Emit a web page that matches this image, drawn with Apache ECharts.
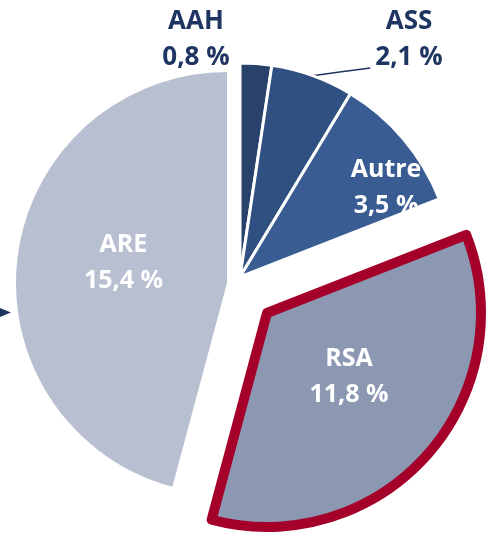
<!DOCTYPE html>
<html>
<head>
<meta charset="utf-8">
<script src="https://cdn.jsdelivr.net/npm/echarts@6/dist/echarts.min.js"></script>
<style>
html,body{margin:0;padding:0;background:#fff;}
#chart{width:490px;height:535px;}
</style>
</head>
<body>
<div id="chart"></div>
<script>
var names = ['AAH', 'ASS', 'Autre', 'RSA', 'ARE'];
var values = [0.8, 2.1, 3.5, 11.8, 15.4];
var colors = ['#28426c', '#2f5081', '#395c92', '#8c97b2', '#b8bfd1'];

var navy = '#1f3561';
var red = '#a5002a';
var font = 'Open Sans';

// 0.8 -> "0,8"
function fmt(v){
    return String(v).replace('.', ',');
}

// label / style per slice
var sliceOpts = {
    'AAH': {
        itemStyle: {borderColor: '#fff', borderWidth: 3},
        label: {position: 'outside', color: navy, fontSize: 26},
        labelLine: {show: false}
    },
    'ASS': {
        itemStyle: {borderColor: '#fff', borderWidth: 3},
        label: {position: 'outside', color: navy, fontSize: 26},
        labelLine: {show: true, length: 10, length2: 20, lineStyle: {color: navy, width: 1.5}}
    },
    'Autre': {
        itemStyle: {borderColor: '#fff', borderWidth: 3},
        label: {position: 'inside', color: '#fff', fontSize: 25}
    },
    'RSA': {
        itemStyle: {borderColor: red, borderWidth: 10, borderJoin: 'round'},
        label: {position: 'inside', color: '#fff', fontSize: 25}
    },
    'ARE': {
        itemStyle: {borderWidth: 0},
        label: {position: 'inside', color: '#fff', fontSize: 25}
    }
};

// every pie keeps all slices so the angles stay the same, only some are drawn
function buildData(shown){
    return names.map(function(n, i){
        var item = {name: n, value: values[i]};
        if (shown.indexOf(n) < 0) {
            item.itemStyle = {color: 'transparent', borderWidth: 0};
            item.label = {show: false};
            item.labelLine = {show: false};
            item.emphasis = {disabled: true};
        } else {
            var o = sliceOpts[n];
            item.itemStyle = Object.assign({color: colors[i]}, o.itemStyle);
            item.label = Object.assign({show: true}, o.label);
            item.labelLine = o.labelLine || {show: false};
        }
        return item;
    });
}

// where the labels sit
var labelPos = {
    'AAH': {x: 196, y: 40, align: 'center', verticalAlign: 'middle'},
    'ASS': {x: 409, y: 40, align: 'center', verticalAlign: 'middle'},
    'Autre': {dx: 62, dy: -18},
    'RSA': {dx: 0, dy: -9},
    'ARE': {dx: 4, dy: -6}
};

function placeLabel(p){
    var pos = labelPos[names[p.dataIndex]];
    if (!pos) return {};
    var res = Object.assign({}, pos);
    // ASS: line runs to the foot of the value line
    if (names[p.dataIndex] === 'ASS' && p.labelLinePoints) {
        var a = p.labelLinePoints[0];
        var end = [pos.x - p.labelRect.width / 2 - 5, pos.y + p.labelRect.height / 2 - 8];
        res.labelLinePoints = [a, [(a[0] + end[0]) / 2, (a[1] + end[1]) / 2], end];
    }
    return res;
}

var baseSeries = {
    type: 'pie',
    radius: 214,
    startAngle: 90,
    clockwise: true,
    avoidLabelOverlap: false,
    animation: false,
    label: {
        fontFamily: font,
        fontWeight: 'bold',
        lineHeight: 36,
        formatter: function(p){ return p.name + '\n' + fmt(p.value) + ' %'; }
    },
    labelLayout: placeLabel,
    emphasis: {scale: false}
};

var chart = echarts.init(document.getElementById('chart'));

var option = {
    backgroundColor: '#fff',
    graphic: [
        {
            type: 'polygon',
            shape: {points: [[0, 308], [11, 312.5], [0, 317]]},
            style: {fill: navy}
        }
    ],
    series: [
        Object.assign({}, baseSeries, {
            center: [240, 277],
            data: buildData(['AAH', 'ASS', 'Autre'])
        }),
        Object.assign({}, baseSeries, {
            center: [227, 283],
            radius: 211,
            data: buildData(['ARE'])
        }),
        Object.assign({}, baseSeries, {
            center: [267, 313],
            data: buildData(['RSA'])
        })
    ]
};

chart.setOption(option);
</script>
</body>
</html>
